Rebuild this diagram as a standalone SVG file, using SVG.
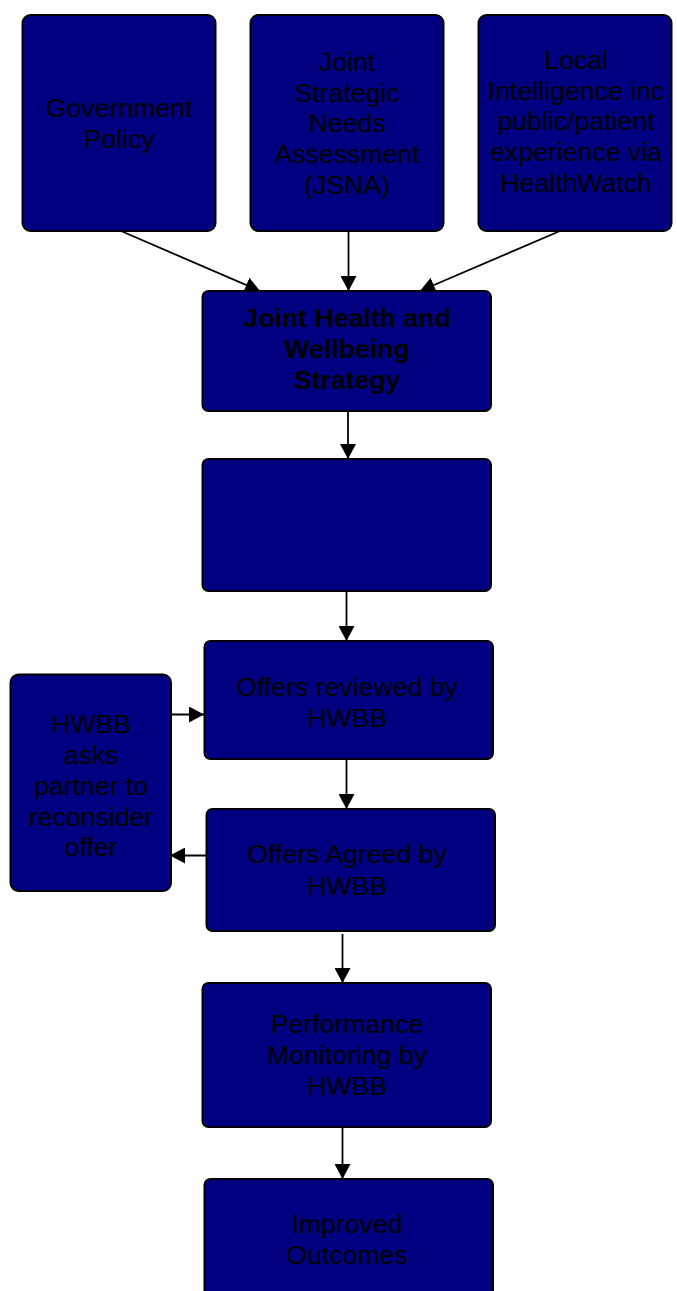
<svg xmlns="http://www.w3.org/2000/svg" width="677" height="1291" viewBox="0 0 677 1291">
<style>
.box{fill:#000080;stroke:#000;stroke-width:2}
.t{font-family:"Liberation Sans",Arial,sans-serif;font-size:26.67px;fill:#000;text-anchor:middle}
.b{font-weight:bold}
.c{stroke:#000;stroke-width:1.8;fill:none}
</style>
<defs>
<marker id="ah" markerUnits="userSpaceOnUse" markerWidth="15" markerHeight="16" viewBox="0 0 15 16" refX="15" refY="8" orient="auto">
<path d="M0,0 L15,8 L0,16 Z" fill="#000"/>
</marker>
</defs>
<rect width="677" height="1291" fill="#fff"/>
<g id="connectors">
<line class="c" x1="121" y1="231" x2="260" y2="291" marker-end="url(#ah)"/>
<line class="c" x1="348.5" y1="231" x2="348.5" y2="291" marker-end="url(#ah)"/>
<line class="c" x1="560" y1="231" x2="420" y2="291" marker-end="url(#ah)"/>
<line class="c" x1="348" y1="411" x2="348" y2="459" marker-end="url(#ah)"/>
<line class="c" x1="346.5" y1="591" x2="346.5" y2="641" marker-end="url(#ah)"/>
<line class="c" x1="171" y1="714.5" x2="204" y2="714.5" marker-end="url(#ah)"/>
<line class="c" x1="346.5" y1="759" x2="346.5" y2="809" marker-end="url(#ah)"/>
<line class="c" x1="206" y1="855.5" x2="170" y2="855.5" marker-end="url(#ah)"/>
<line class="c" x1="342.5" y1="934" x2="342.5" y2="983" marker-end="url(#ah)"/>
<line class="c" x1="342.5" y1="1127" x2="342.5" y2="1179" marker-end="url(#ah)"/>
</g>
<g id="gov-policy">
<rect class="box" x="22.5" y="15" width="193" height="216" rx="8"/>
<text class="t" x="119" y="117">Government</text>
<text class="t" x="119" y="148">Policy</text>
</g>
<g id="jsna">
<rect class="box" x="250.5" y="15" width="193" height="216" rx="8"/>
<text class="t" x="347" y="71">Joint</text>
<text class="t" x="347" y="101.7">Strategic</text>
<text class="t" x="347" y="132.4">Needs</text>
<text class="t" x="347" y="163">Assessment</text>
<text class="t" x="347" y="193.7">(JSNA)</text>
</g>
<g id="local-intel">
<rect class="box" x="478.5" y="15" width="193" height="216" rx="8"/>
<text class="t" x="576" y="69">Local</text>
<text class="t" x="576" y="99.7">Intelligence inc</text>
<text class="t" x="576" y="130.4">public/patient</text>
<text class="t" x="576" y="161">experience via</text>
<text class="t" x="576" y="191.7">HealthWatch</text>
</g>
<g id="jhws">
<rect class="box" x="202.5" y="291" width="288.5" height="120" rx="6"/>
<text class="t b" x="347" y="327">Joint Health and</text>
<text class="t b" x="347" y="358">Wellbeing</text>
<text class="t b" x="347" y="389">Strategy</text>
</g>
<g id="blank-box">
<rect class="box" x="202.5" y="459" width="288.5" height="132" rx="6"/>
</g>
<g id="offers-reviewed">
<rect class="box" x="204.5" y="641" width="288.5" height="118" rx="6"/>
<text class="t" x="347" y="696">Offers reviewed by</text>
<text class="t" x="347" y="727">HWBB</text>
</g>
<g id="hwbb-asks">
<rect class="box" x="10.5" y="674.5" width="160.5" height="216.5" rx="8"/>
<text class="t" x="91" y="733.3">HWBB</text>
<text class="t" x="91" y="764.3">asks</text>
<text class="t" x="91" y="795">partner to</text>
<text class="t" x="91" y="825.7">reconsider</text>
<text class="t" x="91" y="856.4">offer</text>
</g>
<g id="offers-agreed">
<rect class="box" x="206.5" y="809" width="288.5" height="122" rx="6"/>
<text class="t" x="347" y="863.3">Offers Agreed by</text>
<text class="t" x="347" y="895">HWBB</text>
</g>
<g id="performance">
<rect class="box" x="202.5" y="983" width="288.5" height="144" rx="6"/>
<text class="t" x="347" y="1033.3">Performance</text>
<text class="t" x="347" y="1064">Monitoring by</text>
<text class="t" x="347" y="1094.7">HWBB</text>
</g>
<g id="improved">
<rect class="box" x="204.5" y="1179" width="288.5" height="130" rx="6"/>
<text class="t" x="347" y="1233.3">Improved</text>
<text class="t" x="347" y="1263.5">Outcomes</text>
</g>
</svg>
